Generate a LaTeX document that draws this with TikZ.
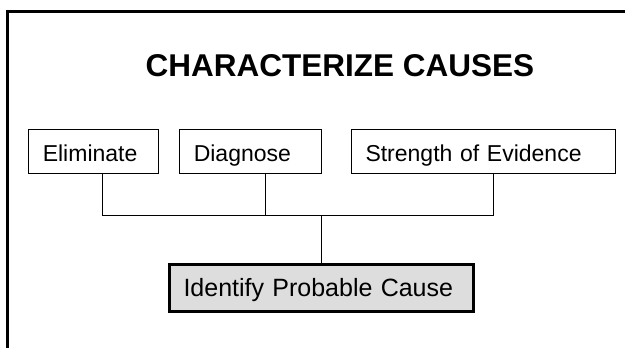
\documentclass[tikz,border=0pt]{standalone}
\usepackage{fontspec}
\setmainfont{Liberation Sans}
\usetikzlibrary{calc}

\begin{document}
\begin{tikzpicture}[
    x=1pt, y=1pt,
    % Styles
    box/.style={ % Cause check box
        draw,
        line width=1pt,
        align=left,
        inner xsep=14pt,
        inner ysep=0pt,
        minimum height=44pt,
        text height=21pt,
        text depth=0pt,
        font=\fontsize{23}{27}\selectfont
    },
    result/.style={ % Outcome box
        box,
        line width=3pt,
        fill=gray!27,
        minimum height=47pt,
        text height=17.4pt,
        font=\fontsize{25}{30}\selectfont
    },
    title/.style={
        anchor=base,
        font=\fontsize{31.5}{36}\selectfont\bfseries
    },
    link/.style={
        line width=1pt
    },
    frame/.style={
        line width=3pt
    }
]
    \useasboundingbox (0,0) rectangle (625,348);

    % Page frame
    \draw[frame] (7.5,0) -- (7.5,336.5) -- (625,336.5);

    % Heading
    \node[title] (head) at (340,271) {CHARACTERIZE CAUSES};

    % Cause checks
    \node[box, text width=102pt] (elim) at (93.8,196.5) {Eliminate};
    \node[box, text width=113.7pt] (diag) at (250.6,196.5) {Diagnose};
    \node[box, text width=236pt] (evid) at (483.5,196.5) {Strength of Evidence};

    % Outcome
    \node[result, text width=276pt] (ident) at (321.5,60) {Identify Probable Cause};

    % Connectors
    \coordinate (join) at (ident.north |- 0,132);
    \draw[link] ([xshift=9pt]elim.south) |- (join);
    \draw[link] ([xshift=14.5pt]diag.south) |- (join);
    \draw[link] ([xshift=9.5pt]evid.south) |- (join);
    \draw[link] (join) -- (ident);
\end{tikzpicture}
\end{document}
